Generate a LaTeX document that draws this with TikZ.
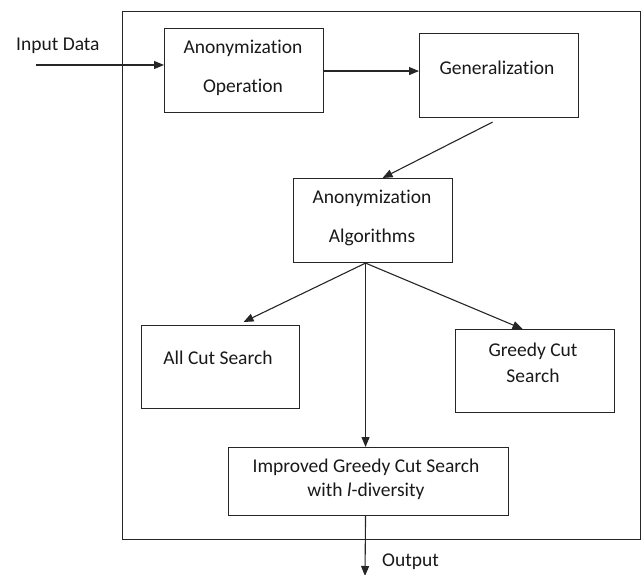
\documentclass[tikz,border=0pt]{standalone}
\usepackage{fontspec}
\setmainfont{Carlito}[Ligatures=NoCommon]
\usetikzlibrary{arrows.meta}
\begin{document}
\begin{tikzpicture}[x=1pt,y=-1pt,
  box/.style={draw=black!85,line width=1.1pt,inner sep=0pt,anchor=north west},
  txt/.style={inner sep=0pt,font=\fontsize{19.5}{23}\selectfont,text=black!90},
  arr/.style={draw=black!85,line width=1.1pt,-{Triangle[length=10pt,width=8pt]}}]
\useasboundingbox (0,0) rectangle (641,575);
% outer frame
\node[box,minimum width=518pt,minimum height=528pt] (frame) at (122,11) {};
% boxes
\node[box,minimum width=159pt,minimum height=84pt] (op) at (164,28) {};
\node[box,minimum width=159pt,minimum height=84pt] (gen) at (419,33) {};
\node[box,minimum width=159pt,minimum height=84pt] (alg) at (293,178) {};
\node[box,minimum width=158pt,minimum height=83pt] (all) at (141,325) {};
\node[box,minimum width=159pt,minimum height=83pt] (greedy) at (455,329) {};
\node[box,minimum width=280pt,minimum height=68pt] (imp) at (228,447) {};
% texts
\node[txt] (t1) at (243,48) {Anonymization};
\node[txt] (t2) at (243,87) {Operation};
\node[txt] (t3) at (497,68) {Generalization};
\node[txt] (t4) at (372,198) {Anonymization};
\node[txt] (t5) at (372,237) {Algorithms};
\node[txt] (t6) at (218,358) {All Cut Search};
\node[txt] (t7) at (533,351) {Greedy Cut};
\node[txt] (t8) at (533,376) {Search};
\node[txt] (t9) at (366,467) {Improved Greedy Cut Search};
\node[txt] (t10) at (366,491) {with \textit{l}-diversity};
\node[txt,anchor=west] (tin) at (16,46) {Input Data};
\node[txt,anchor=west] (tout) at (382,562) {Output};
% connectors
\coordinate (in) at (36,65);
\coordinate (fork) at ([xshift=-7.5pt]alg.south);
\coordinate (out) at (365,576);
\draw[arr] (in) -- (in -| op.west);
\draw[arr] ([yshift=-0.5pt]op.east) -- ([yshift=-0.5pt]op.east -| gen.west);
\draw[arr] ([xshift=-6.5pt,yshift=-4pt]gen.south) -- ([xshift=9.5pt]alg.north);
\draw[arr] (fork) -- ([xshift=23pt,yshift=3pt]all.north);
\draw[arr] (fork) -- ([xshift=-12.5pt,yshift=0pt]greedy.north);
\draw[arr] (fork) -- (fork |- imp.north);
\draw[arr] (fork |- imp.south) -- (out);
\end{tikzpicture}
\end{document}
